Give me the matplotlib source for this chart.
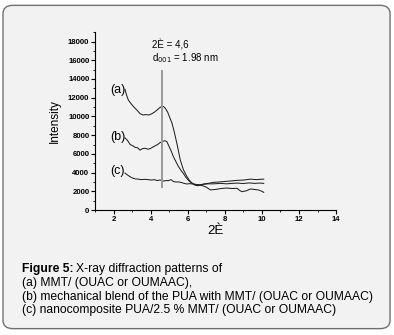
import matplotlib
matplotlib.use("Agg")
import matplotlib.pyplot as plt
from matplotlib.patches import FancyBboxPatch
from matplotlib.ticker import MultipleLocator

plt.rcParams["font.family"] = ["Liberation Sans", "DejaVu Sans"]

# curva (a) MMT/(OUAC u OUMAAC)
xa = [2.62, 2.7, 2.8, 2.95, 3.1, 3.25, 3.43, 3.6, 3.75, 3.9, 4.06, 4.2, 4.33, 4.47,
      4.6, 4.7, 4.8, 4.92, 5.05, 5.15, 5.25, 5.35, 5.45, 5.6, 5.77, 5.95, 6.1, 6.25,
      6.4, 6.55, 6.7, 6.9, 7.1, 7.4, 7.7, 8.0, 8.3, 8.66, 9.0, 9.38, 9.7, 10.1]
ya = [12900, 12300, 11750, 11350, 11000, 10700, 10300, 10150, 10200, 10150, 10280,
      10450, 10650, 10900, 11080, 11050, 10850, 10450, 9800, 9300, 8550, 7700, 6800,
      5350, 4300, 3600, 3150, 2850, 2650, 2600, 2700, 2800, 2850, 2960, 3000, 3050,
      3100, 3170, 3200, 3300, 3250, 3300]

# curva (b) mezcla mecanica
xb = [2.62, 2.75, 2.9, 3.05, 3.16, 3.3, 3.43, 3.55, 3.7, 3.85, 3.97, 4.1, 4.24, 4.38,
      4.51, 4.65, 4.78, 4.88, 4.96, 5.1, 5.23, 5.37, 5.5, 5.65, 5.77, 5.9, 6.05, 6.2,
      6.35, 6.5, 6.65, 6.8, 7.0, 7.22, 7.5, 7.8, 8.1, 8.4, 8.66, 8.8, 8.93, 9.15, 9.38,
      9.6, 9.83, 10.0, 10.1]
yb = [7700, 7450, 7000, 6850, 6700, 6650, 6400, 6550, 6600, 6500, 6550, 6700, 6850,
      7000, 7200, 7350, 7400, 7300, 6950, 6350, 5700, 5150, 4650, 4200, 3900, 3500,
      3150, 2900, 2750, 2700, 2650, 2600, 2450, 2150, 2200, 2300, 2350, 2300, 2320,
      2100, 1960, 2050, 2250, 2200, 2140, 2000, 1890]

# curva (c) nanocompuesto
xc = [2.62, 2.75, 2.9, 3.05, 3.2, 3.34, 3.5, 3.7, 3.88, 4.05, 4.2, 4.35, 4.51, 4.7,
      4.85, 4.96, 5.1, 5.23, 5.35, 5.5, 5.65, 5.8, 5.96, 6.1, 6.3, 6.5, 6.7, 6.86, 7.1,
      7.4, 7.76, 8.1, 8.4, 8.7, 9.0, 9.3, 9.6, 9.9, 10.1]
yc = [3950, 3750, 3550, 3400, 3320, 3300, 3250, 3280, 3250, 3200, 3250, 3150, 3210,
      3100, 3150, 3140, 3250, 3050, 3000, 3000, 2950, 2850, 2780, 2820, 2780, 2720,
      2700, 2750, 2800, 2800, 2850, 2800, 2850, 2880, 2830, 2900, 2850, 2880, 2850]

curve_labels = ["(a)", "(b)", "(c)"]
label_y = [12800, 7800, 4200]
peak_x = 4.6
peak_line = [2500, 14800]

caption = [
    "(a) MMT/ (OUAC or OUMAAC),",
    "(b) mechanical blend of the PUA with MMT/ (OUAC or OUMAAC)",
    "(c) nanocomposite PUA/2.5 % MMT/ (OUAC or OUMAAC)",
]

fig = plt.figure(figsize=(3.94, 3.35), dpi=100)
fig.patch.set_facecolor("white")
# marco redondeado gris detras de todo
frame = FancyBboxPatch((0.0276, 0.039), 0.9424, 0.925,
                       boxstyle="round,pad=0.02,rounding_size=0.025",
                       transform=fig.transFigure, facecolor="#f2f2f2", edgecolor="#707070",
                       linewidth=1.0, zorder=-10)
fig.patches.append(frame)

ax = fig.add_axes([0.241, 0.373, 0.612, 0.531])
ax.set_facecolor("none")

for xs, ys in [(xa, ya), (xb, yb), (xc, yc)]:
    ax.plot(xs, ys, color="#222222", linewidth=0.75)

ax.plot([peak_x, peak_x], peak_line, color="#999999", linewidth=1.4)

for lab, yy in zip(curve_labels, label_y):
    ax.text(1.85, yy, lab, fontsize=9, ha="left", va="center")

ax.text(4.05, 17650, "2È = 4,6", fontsize=7, ha="left", va="center")
ax.text(4.05, 16250, r"d$_{001}$ = 1.98 nm", fontsize=7, ha="left", va="center")

ax.set_xlim(1, 14)
ax.set_ylim(0, 19000)
ax.xaxis.set_major_locator(MultipleLocator(2))
ax.xaxis.set_minor_locator(MultipleLocator(1))
ax.yaxis.set_major_locator(MultipleLocator(2000))
ax.yaxis.set_minor_locator(MultipleLocator(1000))
ax.set_xticks([2, 4, 6, 8, 10, 12, 14])
ax.set_yticks(range(0, 18001, 2000))
ax.tick_params(which="major", direction="out", length=3, width=0.8, labelsize=5.6, pad=1)
ax.tick_params(which="minor", direction="out", length=1.5, width=0.6)
for lbl in ax.get_xticklabels() + ax.get_yticklabels():
    lbl.set_fontweight("bold")
ax.spines["top"].set_visible(False)
ax.spines["right"].set_visible(False)
ax.set_xlabel("2È", fontsize=9.5, labelpad=2)
ax.set_ylabel("Intensity", fontsize=8.5, labelpad=5)

fs = 8.7
fig.text(0.056, 1 - 269 / 335, "Figure 5:", fontsize=fs, fontweight="bold", va="center")
fig.text(0.056 + 0.137, 1 - 269 / 335, "X-ray diffraction patterns of", fontsize=fs, va="center")
for i, line in enumerate(caption):
    fig.text(0.056, 1 - (283 + 13.7 * i) / 335, line, fontsize=fs, va="center")

fig.savefig("out.png", dpi=100)
